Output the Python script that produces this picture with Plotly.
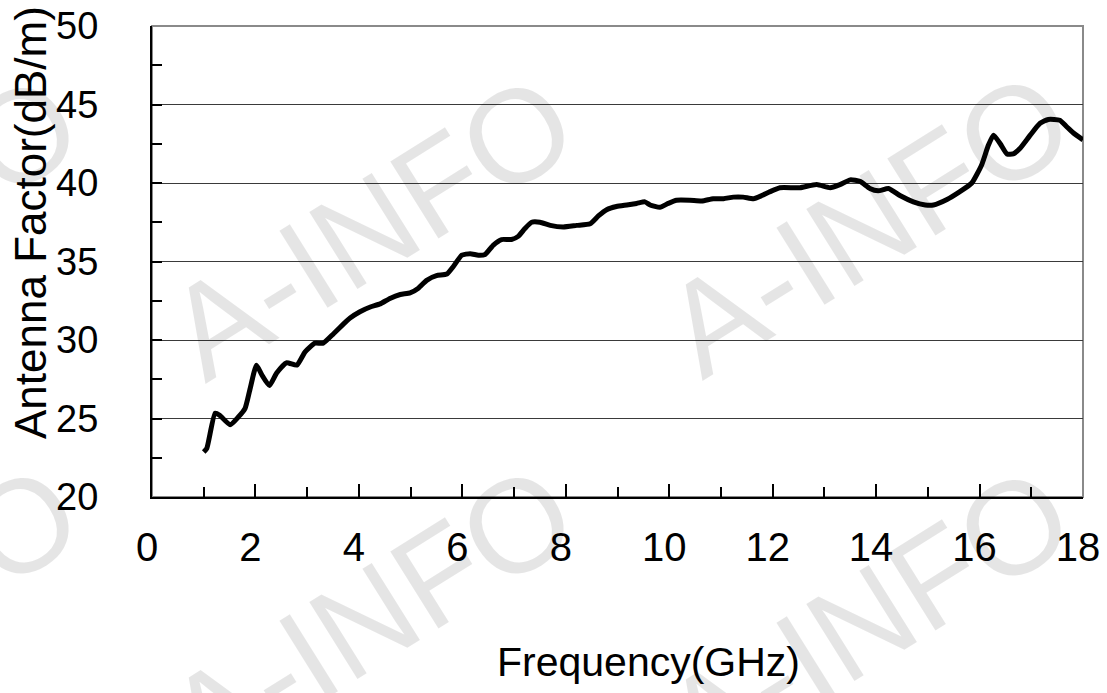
import plotly.graph_objects as go

# antenna factor curve
freq_ghz = [
    1.00, 1.06, 1.22, 1.31, 1.51, 1.67, 1.80, 1.89, 2.02, 2.12, 2.27, 2.41,
    2.60, 2.80, 2.96, 3.15, 3.31, 3.51, 3.76, 3.83, 4.02, 4.22, 4.41, 4.60,
    4.80, 4.99, 5.15, 5.31, 5.50, 5.70, 5.83, 5.99, 6.15, 6.31, 6.44, 6.60,
    6.76, 6.95, 7.08, 7.21, 7.34, 7.50, 7.70, 7.95, 8.21, 8.47, 8.63, 8.79,
    8.98, 9.18, 9.37, 9.53, 9.63, 9.82, 9.98, 10.14, 10.40, 10.63, 10.85,
    11.05, 11.24, 11.43, 11.63, 11.79, 11.95, 12.14, 12.40, 12.53, 12.85,
    13.11, 13.30, 13.50, 13.69, 13.88, 14.04, 14.24, 14.46, 14.72, 14.95,
    15.11, 15.37, 15.62, 15.85, 16.04, 16.17, 16.27, 16.40, 16.53, 16.65,
    16.78, 16.98, 17.17, 17.33, 17.55, 17.68, 17.81, 18.00,
]
antenna_factor = [
    22.87, 23.1, 25.33, 25.2, 24.6, 25.1, 25.65, 26.8, 28.4, 27.8, 27.1, 27.9,
    28.55, 28.4, 29.25, 29.8, 29.8, 30.4, 31.2, 31.4, 31.8, 32.1, 32.3, 32.65,
    32.9, 33.0, 33.3, 33.8, 34.1, 34.2, 34.7, 35.4, 35.5, 35.4, 35.45, 36.05,
    36.4, 36.4, 36.6, 37.1, 37.5, 37.5, 37.3, 37.2, 37.3, 37.4, 37.9, 38.3,
    38.5, 38.6, 38.7, 38.8, 38.6, 38.45, 38.7, 38.9, 38.9, 38.85, 39.0,
    39.0, 39.1, 39.1, 39.0, 39.2, 39.45, 39.7, 39.7, 39.7, 39.9,
    39.7, 39.9, 40.2, 40.1, 39.65, 39.5, 39.65, 39.2, 38.8, 38.6,
    38.6, 38.95, 39.45, 40.0, 41.15, 42.4, 43.05, 42.5, 41.85, 41.85,
    42.2, 43.05, 43.8, 44.05, 44.0, 43.6, 43.2, 42.75,
]

x_ticks = [0, 2, 4, 6, 8, 10, 12, 14, 16, 18]
y_ticks = [20, 25, 30, 35, 40, 45, 50]

FONT = "Liberation Sans, Arial, sans-serif"

# plot box in pixels (1107x693 page)
L, R, T, B = 152, 1083, 26, 497
W, H = R - L, B - T


def px(x, y):
    """pixel position -> paper coords"""
    return (x - L) / W, (B - y) / H


fig = go.Figure()
fig.add_trace(
    go.Scatter(
        x=freq_ghz,
        y=antenna_factor,
        mode="lines",
        line=dict(color="black", width=5, shape="spline", smoothing=0.5),
        hoverinfo="skip",
    )
)

# grey top/right frame
fig.add_shape(
    type="rect", xref="paper", yref="paper", x0=0, x1=1, y0=0, y1=1,
    line=dict(color="#8a8a8a", width=2), layer="below",
)

annotations = []
ax, ay = px(648, 662)
annotations.append(dict(
    x=ax, y=ay, xref="paper", yref="paper", text="Frequency(GHz)",
    showarrow=False, font=dict(family=FONT, size=41, color="black"),
    xanchor="center", yanchor="middle",
))
ax, ay = px(30, 223)
annotations.append(dict(
    x=ax, y=ay, xref="paper", yref="paper", text="Antenna Factor(dB/m)",
    showarrow=False, textangle=-90, font=dict(family=FONT, size=44, color="black"),
    xanchor="center", yanchor="middle",
))

# A-INFO watermark tiles (partly off the page, as in the scan)
for cx, cy in [(370, 227), (867, 224), (-125, 227), (370, 617), (867, 619), (-125, 617)]:
    wx, wy = px(cx, cy)
    annotations.append(dict(
        x=wx, y=wy, xref="paper", yref="paper", text="A-INFO",
        showarrow=False, textangle=-32,
        font=dict(family=FONT, size=132, color="rgba(0,0,0,0.1)"),
        xanchor="center", yanchor="middle",
    ))

fig.update_layout(
    width=1107,
    height=693,
    margin=dict(l=L, r=1107 - R, t=T, b=693 - B, autoexpand=False),
    paper_bgcolor="white",
    plot_bgcolor="white",
    showlegend=False,
    font=dict(family=FONT, color="black"),
    annotations=annotations,
)
fig.update_xaxes(
    range=[0, 18],
    tickvals=x_ticks,
    ticks="inside",
    ticklen=13,
    tickwidth=1.5,
    tickcolor="black",
    minor=dict(dtick=1, ticks="inside", ticklen=10, tickwidth=1.5, tickcolor="black"),
    showline=True,
    linecolor="black",
    linewidth=2,
    showgrid=False,
    zeroline=False,
    automargin=False,
    tickfont=dict(size=40, family=FONT),
    ticklabelstandoff=14,
    ticklabelshift=-5,
)
fig.update_yaxes(
    range=[20, 50],
    tickvals=y_ticks,
    ticks="inside",
    ticklen=10,
    tickwidth=1.5,
    tickcolor="black",
    minor=dict(dtick=2.5, ticks="inside", ticklen=10, tickwidth=1.5, tickcolor="black"),
    showline=True,
    linecolor="black",
    linewidth=2,
    showgrid=True,
    gridcolor="#3a3a3a",
    gridwidth=1.3,
    zeroline=False,
    automargin=False,
    tickfont=dict(size=38, family=FONT),
    ticklabelstandoff=44,
)

# the page has a default body margin that shifts the chart; drop it
fig.write_html(
    "out.html",
    config={"displayModeBar": False},
    post_script="document.body.style.margin='0';",
)
